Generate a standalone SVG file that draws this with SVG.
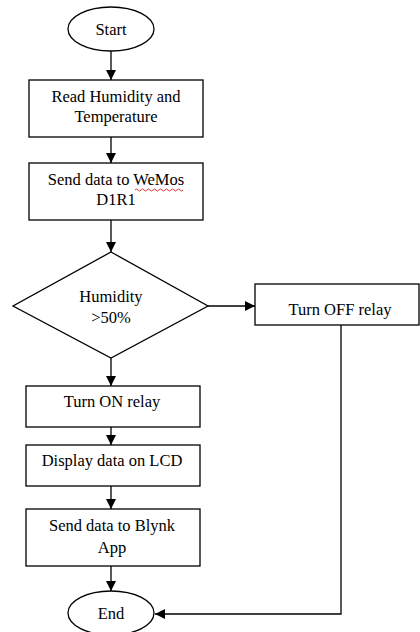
<svg xmlns="http://www.w3.org/2000/svg" width="420" height="632" viewBox="0 0 420 632">
<style>
.s{fill:#fff;stroke:#000;stroke-width:1.3}
.t{font-family:"Liberation Serif","Times New Roman",serif;font-size:16.5px;fill:#000;text-anchor:middle}
.c{fill:none;stroke:#000;stroke-width:1.3}
</style>
<defs>
<marker id="a" viewBox="0 0 10 10" refX="10" refY="5" markerWidth="10" markerHeight="10" markerUnits="userSpaceOnUse" orient="auto">
<path d="M0,0 L10,5 L0,10 Z" fill="#000"/>
</marker>
</defs>
<rect width="420" height="632" fill="#fff"/>
<g id="connectors">
<line class="c" x1="111" y1="51" x2="111" y2="80" marker-end="url(#a)"/>
<line class="c" x1="111" y1="137" x2="111" y2="163" marker-end="url(#a)"/>
<line class="c" x1="111" y1="220" x2="111" y2="252" marker-end="url(#a)"/>
<line class="c" x1="208" y1="306" x2="255" y2="306" marker-end="url(#a)"/>
<line class="c" x1="111" y1="358" x2="111" y2="386" marker-end="url(#a)"/>
<line class="c" x1="111" y1="427" x2="111" y2="445" marker-end="url(#a)"/>
<line class="c" x1="111" y1="486" x2="111" y2="509" marker-end="url(#a)"/>
<line class="c" x1="111" y1="566" x2="111" y2="591" marker-end="url(#a)"/>
<polyline class="c" points="341,325 341,614 155,614" stroke="#444" marker-end="url(#a)"/>
</g>
<g id="start">
<ellipse class="s" cx="111" cy="29" rx="43" ry="22"/>
<text class="t" x="111" y="35">Start</text>
</g>
<g id="read">
<rect class="s" x="29" y="80" width="174" height="57"/>
<text class="t" x="116" y="102">Read Humidity and</text>
<text class="t" x="116" y="122">Temperature</text>
</g>
<g id="send">
<rect class="s" x="29" y="163" width="174" height="57"/>
<text class="t" x="116" y="185">Send data to WeMos</text>
<text class="t" x="116" y="205">D1R1</text>
<path d="M135,190 q1.5,-2 3,0 t3,0 t3,0 t3,0 t3,0 t3,0 t3,0 t3,0 t3,0 t3,0 t3,0 t3,0 t3,0 t3,0 t3,0 t3,0" fill="none" stroke="#e02020" stroke-width="0.9"/>
</g>
<g id="decision">
<polygon class="s" points="111,252 208,306 111,358 13,306"/>
<text class="t" x="111" y="302">Humidity</text>
<text class="t" x="111" y="323">&gt;50%</text>
</g>
<g id="off">
<rect class="s" x="255" y="284" width="164" height="41"/>
<text class="t" x="340" y="315">Turn OFF relay</text>
</g>
<g id="on">
<rect class="s" x="26" y="386" width="174" height="41"/>
<text class="t" x="112" y="407">Turn ON relay</text>
</g>
<g id="display">
<rect class="s" x="26" y="445" width="174" height="41"/>
<text class="t" x="112" y="466">Display data on LCD</text>
</g>
<g id="blynk">
<rect class="s" x="26" y="509" width="174" height="57"/>
<text class="t" x="112" y="531">Send data to Blynk</text>
<text class="t" x="112" y="553">App</text>
</g>
<g id="end">
<ellipse class="s" cx="111" cy="613" rx="43" ry="22"/>
<text class="t" x="111" y="619">End</text>
</g>
</svg>
